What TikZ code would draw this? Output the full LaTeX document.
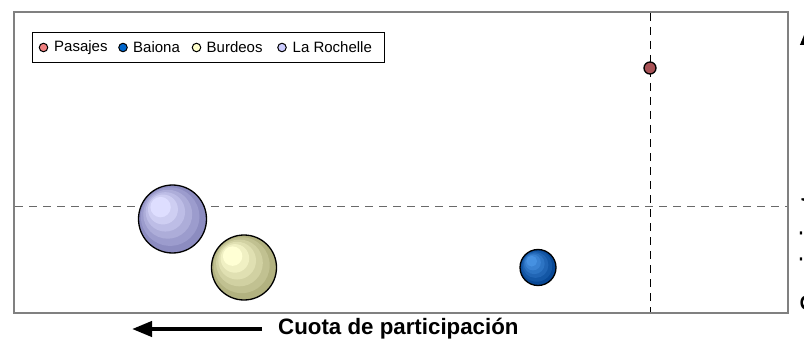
\documentclass[tikz,border=0pt]{standalone}
\usepackage{fontspec}
\setmainfont{Liberation Sans}
\usetikzlibrary{arrows.meta}
\definecolor{framegray}{RGB}{128,128,128}
\definecolor{dashgray}{RGB}{105,105,105}
\definecolor{pasajesleg}{RGB}{240,128,128}
\definecolor{baionaleg}{RGB}{0,102,204}
\definecolor{burdeosleg}{RGB}{255,255,204}
\definecolor{rochelleleg}{RGB}{204,204,255}
\definecolor{pasajesdot}{RGB}{168,82,86}
\definecolor{rochout}{RGB}{140,140,192}
\definecolor{rochin}{RGB}{222,222,255}
\definecolor{burout}{RGB}{178,178,128}
\definecolor{burin}{RGB}{255,255,212}
\definecolor{baiout}{RGB}{8,72,150}
\definecolor{baiin}{RGB}{70,145,225}
\tikzset{
  legdot/.style={circle,draw=black,line width=1pt,inner sep=0pt,minimum size=8.5pt},
  legtext/.style={anchor=west,inner sep=0pt,font=\fontsize{15}{17}\selectfont},
  axislabel/.style={inner sep=0pt,font=\fontsize{22.3}{24}\selectfont\bfseries},
  axisarrow/.style={line width=4pt,-{Triangle[length=20pt,width=15pt]}},
  quadline/.style={line width=1pt,dash pattern=on 8pt off 6pt},
  bubbleedge/.style={draw=black,line width=1.3pt}
}
% #1 name, #2 x, #3 y, #4 radius, #5 outer colour, #6 inner colour
\newcommand{\mybubble}[6]{%
  \foreach \k in {0,...,5}{%
    \pgfmathsetmacro{\pct}{\k*20}%
    \fill[color=#6!\pct!#5] ({#2-0.07*\k*#4},{#3-0.07*\k*#4}) circle ({#4*(1-0.14*\k)});
  }%
  \node[circle,bubbleedge,minimum size={2*#4},inner sep=0pt] (#1) at (#2,#3) {};
}
\begin{document}
\begin{tikzpicture}[x=1pt,y=-1pt]
\useasboundingbox (0,0) rectangle (804,345);
\fill[white] (0,0) rectangle (804,345);
% plot frame
\draw[framegray,line width=2pt] (14,12) rectangle (788,313);
% quadrant lines
\coordinate (hl) at (15,206);
\coordinate (hr) at (787,206);
\coordinate (vt) at (650,13);
\coordinate (vb) at (650,312);
\draw[quadline,dashgray] (hl) -- (hr);
\draw[quadline,black] (vt) -- (vb);
% legend
\node[draw=black,line width=1pt,fill=white,minimum width=352pt,minimum height=30pt,inner sep=0pt,anchor=north west] (legend) at (32,32) {};
\node[legdot,fill=pasajesleg] (l1) at (43.5,47.5) {};
\node[legtext] (t1) at (54,47.5) {Pasajes};
\node[legdot,fill=baionaleg] (l2) at (123,47.5) {};
\node[legtext] (t2) at (133,47.5) {Baiona};
\node[legdot,fill=burdeosleg] (l3) at (196.5,47.5) {};
\node[legtext] (t3) at (206.5,47.5) {Burdeos};
\node[legdot,fill=rochelleleg] (l4) at (282,47.5) {};
\node[legtext] (t4) at (292.5,47.5) {La Rochelle};
% bubbles
\node[circle,bubbleedge,fill=pasajesdot,minimum size=12pt,inner sep=0pt] (pasajes) at (650,68) {};
\mybubble{rochelle}{172.5}{219}{34}{rochout}{rochin}
\mybubble{burdeos}{244}{267.5}{32.5}{burout}{burin}
\mybubble{baiona}{538}{267.5}{18}{baiout}{baiin}
% horizontal axis label
\coordinate (ha1) at (262,329);
\coordinate (ha2) at (132,329);
\draw[axisarrow] (ha1) -- (ha2);
\node[axislabel,anchor=west] (xlabel) at (278,329) {Cuota de participación};
% vertical axis label (mostly outside the picture)
\coordinate (va1) at (808,150);
\coordinate (va2) at (808,25);
\draw[axisarrow] (va1) -- (va2);
\node[axislabel,rotate=90,anchor=base west] (ylabel) at (816,312) {Crecimiento};
\end{tikzpicture}
\end{document}
